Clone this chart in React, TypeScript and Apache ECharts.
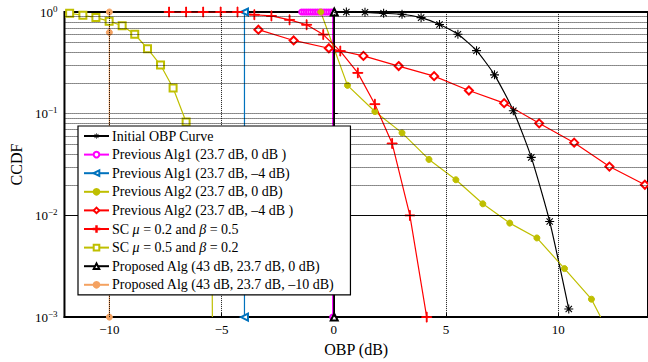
import React, { useEffect, useRef } from "react";
import * as echarts from "echarts";

// ---- data ----
const xTicks = [-10, -5, 0, 5, 10];
const minorY = [
  0.002, 0.003, 0.004, 0.005, 0.006, 0.007, 0.008, 0.009,
  0.02, 0.03, 0.04, 0.05, 0.06, 0.07, 0.08, 0.09,
  0.2, 0.3, 0.4, 0.5, 0.6, 0.7, 0.8, 0.9,
];

const initX = [0.56, 1.39, 2.22, 3.04, 3.89, 4.71, 5.53, 6.36, 7.16, 8.0, 8.8, 9.62, 10.47];
const initY = [1.0, 0.993, 0.971, 0.95, 0.88, 0.754, 0.604, 0.417, 0.241, 0.107, 0.0372, 0.0087, 0.0012];

const prev1aX = [-1.43, -1.33, -1.23, -1.13, -1.03, -0.93, -0.83, -0.73, -0.63, -0.53, -0.43, -0.33, -0.23, -0.13, -0.05, -0.05];
const prev1aY = [1, 1, 1, 1, 1, 1, 1, 1, 1, 1, 1, 1, 1, 1, 1, 0.001];

const prev1bX = [-3.98, -3.98];
const prev1bY = [1, 0.001];

const prev2aX = [-0.58, 0.61, 1.83, 3.04, 4.24, 5.44, 6.64, 7.84, 9.05, 10.28, 11.48, 11.89];
const prev2aY = [1, 0.19, 0.105, 0.0648, 0.0355, 0.0224, 0.013, 0.0084, 0.006, 0.003, 0.0015, 0.001];

const prev2bX = [-3.36, -1.79, -0.22, 1.32, 2.89, 4.47, 6.02, 7.59, 9.15, 10.71, 12.28, 13.86];
const prev2bY = [0.67, 0.525, 0.44, 0.37, 0.294, 0.234, 0.169, 0.127, 0.0804, 0.0519, 0.0302, 0.02];

const sc1X = [-7.34, -6.58, -5.82, -5.04, -4.29, -3.54, -2.78, -1.97, -1.21, -0.47, 0.29, 1.07, 1.83, 2.6, 3.39, 4.14];
const sc1Y = [1, 1, 1, 1, 1, 0.94, 0.915, 0.837, 0.749, 0.6, 0.413, 0.252, 0.124, 0.051, 0.01, 0.001];

const sc2X = [-11.77, -11.18, -10.6, -10.01, -9.43, -8.87, -8.3, -7.72, -7.16, -6.58, -6.0, -5.42, -5.41];
const sc2Y = [0.97, 0.929, 0.881, 0.813, 0.732, 0.604, 0.436, 0.301, 0.179, 0.0828, 0.025, 0.0025, 0.001];

const prop0X = [0.02, 0.02];
const prop0Y = [1, 0.001];

const prop10X = [-10, -10, -10];
const prop10Y = [1, 0.63, 0.001];

const names = [
  "Initial OBP Curve",
  "Previous Alg1 (23.7 dB, 0 dB )",
  "Previous Alg1 (23.7 dB, –4 dB)",
  "Previous Alg2 (23.7 dB, 0 dB)",
  "Previous Alg2 (23.7 dB, –4 dB )",
  "SC μ = 0.2 and β = 0.5",
  "SC μ = 0.5 and β = 0.2",
  "Proposed Alg (43 dB, 23.7 dB, 0 dB)",
  "Proposed Alg (43 dB, 23.7 dB, –10 dB)",
];

const FONT = "'Liberation Serif', 'Times New Roman', serif";

const STAR =
  "path://M-1.2,-10 L1.2,-10 L1.2,10 L-1.2,10 Z M-10,-1.2 L10,-1.2 L10,1.2 L-10,1.2 Z " +
  "M-7.9,-6.2 L-6.2,-7.9 L7.9,6.2 L6.2,7.9 Z M6.2,-7.9 L7.9,-6.2 L-6.2,7.9 L-7.9,6.2 Z";
const PLUS = "path://M-0.8,-10 L0.8,-10 L0.8,10 L-0.8,10 Z M-10,-0.8 L10,-0.8 L10,0.8 L-10,0.8 Z";

const GRID_LINE = { type: "dotted", color: "#000", width: 1, opacity: 0.9 };

function mk(
  name: string,
  xs: number[],
  ys: number[],
  color: string,
  symbol: string,
  size: number,
  extra: any = {},
  noSymbol: number[] = []
) {
  return {
    name,
    type: "line",
    silent: true,
    data: xs.map((x, i) =>
      noSymbol.indexOf(i) >= 0 ? { value: [x, ys[i]], symbol: "none" } : { value: [x, ys[i]] }
    ),
    symbol,
    symbolSize: size,
    showAllSymbol: true,
    lineStyle: { color, width: 1.2 },
    itemStyle: { color, borderColor: color, borderWidth: 1 },
    emphasis: { disabled: true },
    z: 3,
    ...extra,
  };
}

export default function App() {
  const ref = useRef<HTMLDivElement>(null);
  useEffect(() => {
    if (!ref.current) return;
    const chart = echarts.init(ref.current, null, { renderer: "svg" });
    const gridSeries = {
      name: "__grid",
      type: "line",
      silent: true,
      data: [[0, 0.5]],
      symbol: "none",
      lineStyle: { opacity: 0 },
      z: 1,
      markLine: {
        silent: true,
        symbol: ["none", "none"],
        label: { show: false },
        lineStyle: GRID_LINE,
        data: [
          ...minorY.map((v) => ({ yAxis: v })),
          ...xTicks.map((v) => ({ xAxis: v })),
        ],
      },
    };
    const series = [
      gridSeries,
      mk(names[0], initX, initY, "#000000", STAR, 9, { smooth: 0.2, itemStyle: { color: "#000", borderWidth: 0 } }),
      mk(names[1], prev1aX, prev1aY, "#FF00FF", "emptyCircle", 5),
      mk(names[2], prev1bX, prev1bY, "#0072BD", "emptyTriangle", 7, { symbolRotate: 90 }),
      mk(names[3], prev2aX, prev2aY, "#BFBF00", "circle", 6, {}, [11]),
      mk(names[4], prev2bX, prev2bY, "#FF0000", "emptyDiamond", 8),
      mk(names[5], sc1X, sc1Y, "#FF0000", PLUS, 10),
      mk(names[6], sc2X, sc2Y, "#BFBF00", "emptyRect", 7, {}, [12]),
      mk(names[7], prop0X, prop0Y, "#000000", "emptyTriangle", 7),
      mk(names[8], prop10X, prop10Y, "#F4A261", "circle", 6),
    ];
    const option: any = {
      animation: false,
      backgroundColor: "#fff",
      textStyle: { fontFamily: FONT },
      grid: {
        left: 57,
        right: -1,
        top: 12,
        bottom: 40,
        show: true,
        borderColor: "#000",
        borderWidth: 2,
        backgroundColor: "transparent",
      },
      xAxis: {
        type: "value",
        min: -12,
        max: 14,
        name: "OBP (dB)",
        nameLocation: "middle",
        nameGap: 19,
        nameTextStyle: { fontFamily: FONT, fontSize: 16, color: "#000" },
        axisLine: { show: true, lineStyle: { color: "#000", width: 2 } },
        axisTick: { show: true, inside: true, length: 4, customValues: xTicks, lineStyle: { color: "#000" } },
        axisLabel: {
          customValues: xTicks,
          fontFamily: FONT,
          fontSize: 13,
          color: "#000",
          margin: 6,
          formatter: (v: number) => (v < 0 ? "−" + -v : "" + v),
        },
        splitLine: { show: false },
      },
      yAxis: {
        type: "log",
        logBase: 10,
        min: 0.001,
        max: 1,
        name: "CCDF",
        nameLocation: "middle",
        nameGap: 32,
        nameTextStyle: { fontFamily: FONT, fontSize: 16, color: "#000" },
        axisLine: { show: true, lineStyle: { color: "#000", width: 2 } },
        axisTick: { show: true, inside: true, length: 4, lineStyle: { color: "#000" } },
        axisLabel: {
          fontFamily: FONT,
          fontSize: 13,
          color: "#000",
          margin: 7,
          formatter: (v: number) => {
            const e = Math.round(Math.log10(v));
            return "{b|10}{s|" + (e < 0 ? "−" + -e : "" + e) + "}";
          },
          rich: {
            b: { fontFamily: FONT, fontSize: 13, color: "#000" },
            s: { fontFamily: FONT, fontSize: 9, color: "#000", padding: [0, 0, 7, 0] },
          },
        },
        splitLine: { show: true, lineStyle: GRID_LINE },
      },
      legend: {
        data: names,
        orient: "vertical",
        left: 78,
        top: 126,
        backgroundColor: "#fff",
        borderColor: "#000",
        borderWidth: 1.2,
        borderRadius: 0,
        padding: [3, 16, 3, 5],
        itemWidth: 25,
        itemHeight: 7,
        itemGap: 4.6,
        selectedMode: false,
        textStyle: {
          fontFamily: FONT,
          fontSize: 14,
          lineHeight: 14,
          color: "#000",
          padding: [0, 0, 0, -2],
          rich: {
            i: { fontFamily: FONT, fontSize: 14, lineHeight: 14, fontStyle: "italic", color: "#000" },
          },
        },
        formatter: (n: string) => n.replace("μ", "{i|μ}").replace("β", "{i|β}"),
        z: 10,
      },
      series,
    };
    chart.setOption(option);
    return () => chart.dispose();
  }, []);
  return (
    <div
      ref={ref}
      style={{ position: "fixed", left: 0, top: 0, width: 648, height: 362, background: "#fff" }}
    />
  );
}
